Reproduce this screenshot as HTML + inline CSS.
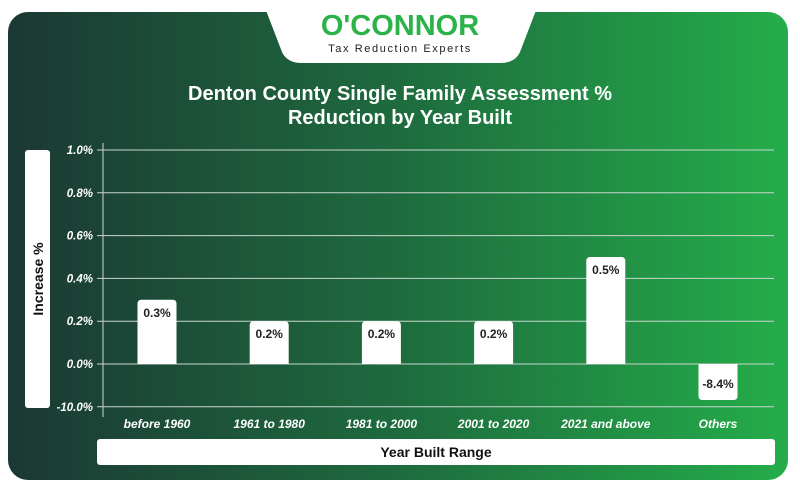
<!DOCTYPE html>
<html><head><meta charset="utf-8"><style>
body{margin:0;width:800px;height:492px;background:#fff;overflow:hidden;font-family:"Liberation Sans",sans-serif}
svg{display:block}
</style></head><body>
<svg width="800" height="492" viewBox="0 0 800 492">
<defs>
<linearGradient id="bg" x1="0" x2="1" y1="0" y2="0">
<stop offset="0" stop-color="#1b3834"/><stop offset="0.5" stop-color="#1e6b3e"/><stop offset="1" stop-color="#24ad4a"/>
</linearGradient>
</defs>
<rect x="8" y="12" width="780" height="468" rx="20" fill="url(#bg)"/>
<path d="M262 0 L540 0 L520 52 Q515 63 500 63 L302 63 Q287 63 282 52 Z" fill="#fff"/>
<text x="400" y="35" text-anchor="middle" font-size="29" font-weight="bold" fill="#2bb34a">O'CONNOR</text>
<text x="400" y="52" text-anchor="middle" font-size="11" letter-spacing="1.6" fill="#222">Tax Reduction Experts</text>
<text x="400" y="100" text-anchor="middle" font-size="20" font-weight="bold" fill="#fff" textLength="424" lengthAdjust="spacingAndGlyphs">Denton County Single Family Assessment %</text>
<text x="400" y="124" text-anchor="middle" font-size="20" font-weight="bold" fill="#fff">Reduction by Year Built</text>
<rect x="25" y="150" width="25" height="258" rx="3" fill="#fff"/>
<text transform="translate(43,279) rotate(-90)" text-anchor="middle" font-size="14" font-weight="bold" fill="#111">Increase %</text>
<rect x="97" y="439" width="678" height="26" rx="3" fill="#fff"/>
<text x="436" y="457" text-anchor="middle" font-size="14" font-weight="bold" fill="#111">Year Built Range</text>
<line x1="103" y1="143" x2="103" y2="417" stroke="#cfd8d2" stroke-width="1"/>
<g id="grid"></g><g id="bars"></g>
</svg>
<script>
const categories=["before 1960","1961 to 1980","1981 to 2000","2001 to 2020","2021 and above","Others"];
const values=[0.3,0.2,0.2,0.2,0.5,-8.4];
const valueLabels=["0.3%","0.2%","0.2%","0.2%","0.5%","-8.4%"];
const tickValues=[1.0,0.8,0.6,0.4,0.2,0.0,-10.0];
const tickLabels=["1.0%","0.8%","0.6%","0.4%","0.2%","0.0%","-10.0%"];
const NS="http://www.w3.org/2000/svg";
const y0=364,step=42.8;
function yScale(v){return v>=0? y0-v/0.2*step : y0+(-v/10)*step;}
function xScale(i){return 157+i*112.2;}
const grid=document.getElementById('grid'),bars=document.getElementById('bars');
function mk(tag,attrs,parent){const e=document.createElementNS(NS,tag);for(const k in attrs)e.setAttribute(k,attrs[k]);parent.appendChild(e);return e;}
tickValues.forEach((t,i)=>{
 const y=yScale(t);
 const l=mk('line',{x1:97,x2:774,y1:y,y2:y,stroke:'#c9d6cd','stroke-width':1},grid);
 
 
 const tx=mk('text',{x:93,y:y+4,'text-anchor':'end','font-size':11.5,'font-weight':'bold','font-style':'italic',fill:'#fff'},grid);
 tx.textContent=tickLabels[i];
 
 
});
values.forEach((v,i)=>{
 const cx=xScale(i),w=39,yt=yScale(Math.max(v,0)),yb=yScale(Math.min(v,0));
 const r=4,x=cx-w/2;
 let d;
 if(v>=0) d=`M${x} ${yb} L${x} ${yt+r} Q${x} ${yt} ${x+r} ${yt} L${x+w-r} ${yt} Q${x+w} ${yt} ${x+w} ${yt+r} L${x+w} ${yb} Z`;
 else d=`M${x} ${yt} L${x} ${yb-r} Q${x} ${yb} ${x+r} ${yb} L${x+w-r} ${yb} Q${x+w} ${yb} ${x+w} ${yb-r} L${x+w} ${yt} Z`;
 const b=mk('path',{d:d,fill:'#fff'},bars);
 
 
 const ly=v>=0? yt+17 : yb-12;
 const t=mk('text',{x:cx,y:ly,'text-anchor':'middle','font-size':12,'font-weight':'bold',fill:'#222'},bars);
 t.textContent=valueLabels[i];
 
 
 const c=mk('text',{x:cx,y:428,'text-anchor':'middle','font-size':12,'font-weight':'bold','font-style':'italic',fill:'#fff'},bars);
 c.textContent=categories[i];
 
 
});
</script>
</body></html>
